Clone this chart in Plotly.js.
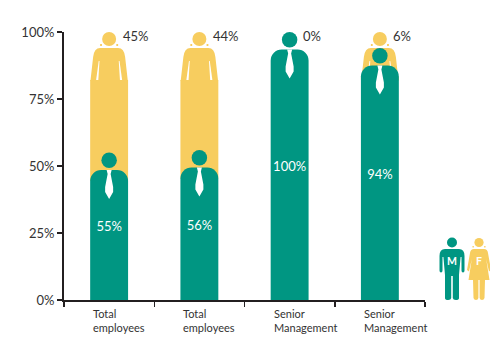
<!DOCTYPE html>
<html>
<head>
<meta charset="utf-8">
<script src="https://cdn.plot.ly/plotly-3.0.1.min.js"></script>
<style>html,body{margin:0;padding:0;background:#fff}#chart{width:490px;height:338px}</style>
</head>
<body>
<div id="chart"></div>
<script>
// Workforce gender split, drawn as stacked person figures.
const categories = ['Total<br>employees', 'Total<br>employees', 'Senior<br>Management', 'Senior<br>Management'];
const maleShare = [55, 56, 100, 94];
const femaleShare = [45, 44, 0, 6];
const yTicks = [0, 25, 50, 75, 100];

const TEAL = '#009682';
const YELLOW = '#f7cd5f';
const INK = '#231f20';
const FONT = 'Lato, "Open Sans", sans-serif';

const M = {l: 64, r: 65, t: 32, b: 38};
const plotW = 490 - M.l - M.r, plotH = 338 - M.t - M.b;
const pxToPct = 100 / plotH;
const positions = categories.map((_, i) => i);

// Pixel drops measured from the top of a figure (value level) downwards.
const MALE_HEAD = 7.75, MALE_SHOULDER = 17.5, SHOULDER_RADIUS = 11;
const FEMALE_HEAD = 7, FEMALE_HIP = 48;
const LABEL_DROP = 1.5;

// Builds an SVG path from y-down pixel offsets; Plotly's pixel mode counts y upwards.
function path() {
  let out = '', xy = 0;
  for (const a of arguments) {
    if (typeof a === 'string') { out += a + ' '; xy = 0; }
    else { out += (xy++ % 2 ? -a : a) + ' '; }
  }
  return out;
}

function figureShape(x, yVal, d, fill, layer) {
  return {type: 'path', xref: 'x', yref: 'y', xsizemode: 'pixel', ysizemode: 'pixel',
          xanchor: x, yanchor: yVal, path: d, fillcolor: fill,
          line: {width: 0}, layer: layer};
}
function keyAnchor(px, py) {
  return {xref: 'paper', yref: 'paper', xsizemode: 'pixel', ysizemode: 'pixel',
          xanchor: (px - M.l) / plotW, yanchor: 1 - (py - M.t) / plotH,
          line: {width: 0}, layer: 'above'};
}
function keyShape(px, py, d, fill) {
  return Object.assign(keyAnchor(px, py), {type: 'path', path: d, fillcolor: fill});
}
function keyHead(px, py, r, fill) {
  return Object.assign(keyAnchor(px, py), {type: 'circle', x0: -r, x1: r, y0: -r, y1: r, fillcolor: fill});
}

const torso = path('M', -9, 16, 'Q', -15, 16, -16, 25, 'L', -18.7, 49, 'L', 18.7, 49, 'L', 16, 25, 'Q', 15, 16, 9, 16, 'Z');
const hairL = path('M', -9, 12, 'L', -7.2, 12, 'L', -7.2, 14, 'L', -9, 14, 'Z');
const hairR = path('M', 7.2, 12, 'L', 9, 12, 'L', 9, 14, 'L', 7.2, 14, 'Z');
const slitL = path('M', -10.4, 29, 'L', -9.6, 29, 'L', -10.8, 48, 'L', -13, 48, 'Z');
const slitR = path('M', 9.6, 29, 'L', 10.4, 29, 'L', 13, 48, 'L', 10.8, 48, 'Z');
const tie = path('M', -2.5, 0, 'L', 2.5, 0, 'L', 1.5, 4, 'L', 4, 17, 'L', 4, 22, 'L', 0, 29, 'L', -4, 22, 'L', -4, 17, 'L', -1.5, 4, 'Z');

const shapes = [];
positions.forEach(i => {
  if (femaleShare[i] > 0) {
    const top = maleShare[i] + femaleShare[i];
    [torso, hairL, hairR].forEach(d => shapes.push(figureShape(i, top, d, YELLOW, 'below')));
    [slitL, slitR].forEach(d => shapes.push(figureShape(i, top, d, '#ffffff', 'below')));
  }
  shapes.push(figureShape(i, maleShare[i] - MALE_SHOULDER * pxToPct, tie, '#ffffff', 'above'));
});

// Key figures on the right of the plot.
const keyMale = path('M', -7, 0, 'Q', -12.5, 0, -12.5, 7, 'L', -12.5, 21.5, 'Q', -12.5, 23.5, -11, 23.5, 'Q', -9.5, 23.5, -9.5, 21.5,
  'L', -9.5, 8, 'L', -8.6, 8, 'L', -7, 26, 'L', -7, 49, 'Q', -7, 51, -3.8, 51, 'Q', -1, 51, -0.8, 49, 'L', -0.8, 27, 'L', 0.8, 27, 'L', 0.8, 49,
  'Q', 1, 51, 3.8, 51, 'Q', 7, 51, 7, 49, 'L', 7, 26, 'L', 8.6, 8, 'L', 9.5, 8, 'L', 9.5, 21.5, 'Q', 9.5, 23.5, 11, 23.5, 'Q', 12.5, 23.5, 12.5, 21.5,
  'L', 12.5, 7, 'Q', 12.5, 0, 7, 0, 'Z');
const keyFemale = path('M', -5, 0, 'Q', -8.5, 0, -9, 4, 'L', -12, 21, 'L', -10, 22.5, 'L', -7.2, 10, 'L', -10.5, 31, 'L', -6, 31, 'L', -5.5, 49,
  'Q', -5, 51, -3, 51, 'Q', -1, 51, -0.6, 49, 'L', -0.6, 31, 'L', 0.6, 31, 'L', 0.6, 49, 'Q', 1, 51, 3, 51, 'Q', 5, 51, 5.5, 49,
  'L', 6, 31, 'L', 10.5, 31, 'L', 7.2, 10, 'L', 10, 22.5, 'L', 12, 21, 'L', 9, 4, 'Q', 8.5, 0, 5, 0, 'Z');
shapes.push(keyHead(452, 242.5, 5, TEAL));
shapes.push(keyHead(479, 242.5, 4.6, YELLOW));
shapes.push(keyShape(452, 249, keyMale, TEAL));
shapes.push(keyShape(479, 249, keyFemale, YELLOW));
shapes.push(keyShape(479, 249, path('M', -6.5, -3, 'L', -5.2, -3, 'L', -5.2, -1.5, 'L', -6.5, -1.5, 'Z'), YELLOW));
shapes.push(keyShape(479, 249, path('M', 5.2, -3, 'L', 6.5, -3, 'L', 6.5, -1.5, 'L', 5.2, -1.5, 'Z'), YELLOW));

// The yellow body starts under the teal shoulders so it fills the rounded corners.
const femaleBase = maleShare.map(m => m - (MALE_SHOULDER + SHOULDER_RADIUS) * pxToPct);
const femaleBody = positions.map(i => femaleShare[i] > 0
  ? (maleShare[i] + femaleShare[i] - FEMALE_HIP * pxToPct) - femaleBase[i] : null);

// Teal marks live on a twin y axis: bars sharing a subplot only round the tallest one,
// and the twin also keeps the male figure in front of the female one.
const traces = [
  {type: 'bar', x: positions, y: femaleBody, base: femaleBase, width: 0.42,
   marker: {color: YELLOW, line: {width: 0}}, hoverinfo: 'skip'},
  {type: 'scatter', mode: 'markers', cliponaxis: false,
   x: positions.filter(i => femaleShare[i] > 0),
   y: positions.filter(i => femaleShare[i] > 0).map(i => maleShare[i] + femaleShare[i] - FEMALE_HEAD * pxToPct),
   marker: {size: 14, color: YELLOW, line: {width: 0}}, hoverinfo: 'skip'},
  {type: 'bar', yaxis: 'y2', x: positions, y: maleShare.map(m => m - MALE_SHOULDER * pxToPct), width: 0.42,
   marker: {color: TEAL, line: {width: 0}, cornerradius: SHOULDER_RADIUS}, hoverinfo: 'skip'},
  {type: 'scatter', yaxis: 'y2', mode: 'markers', cliponaxis: false,
   x: positions, y: maleShare.map(m => m - MALE_HEAD * pxToPct),
   marker: {size: 15.5, color: TEAL, line: {width: 0}}, hoverinfo: 'skip'},
  {type: 'scatter', yaxis: 'y2', mode: 'text', cliponaxis: false,
   x: positions, y: maleShare.map(m => m / 2 - LABEL_DROP * pxToPct), text: maleShare.map(m => m + '%'),
   textposition: 'middle center', textfont: {family: FONT, size: 13, color: '#ffffff'}, hoverinfo: 'skip'}
];

const annotations = [];
positions.forEach(i => {
  annotations.push({x: i, xref: 'x', y: 100, yref: 'y', yshift: -4, xshift: 13.5, yanchor: 'middle', xanchor: 'left',
    text: femaleShare[i] + '%', showarrow: false, font: {family: FONT, size: 13, color: '#333333'}, borderpad: 0, borderwidth: 0});
  annotations.push({x: i, xref: 'x', y: 0, yref: 'y', yshift: -7, xshift: -16, yanchor: 'top', xanchor: 'left', align: 'left',
    text: categories[i], showarrow: false, font: {family: FONT, size: 11, color: '#333333'}, borderpad: 0, borderwidth: 0});
});
['M', 'F'].forEach((letter, k) => annotations.push({
  x: ([452, 479][k] - M.l) / plotW, xref: 'paper', xanchor: 'center',
  y: 1 - (261 - M.t) / plotH, yref: 'paper', yanchor: 'middle',
  text: '<b>' + letter + '</b>', showarrow: false, borderpad: 0,
  font: {family: FONT, size: 10.5, color: '#ffffff'}}));

const layout = {
  width: 490, height: 338, margin: M, paper_bgcolor: '#fff', plot_bgcolor: 'rgba(0,0,0,0)',
  barmode: 'overlay', showlegend: false, shapes, annotations,
  xaxis: {range: [-0.5, 3.5], tickmode: 'array', tickvals: [-0.5, 0.5, 1.5, 2.5, 3.5], showticklabels: false,
          ticks: 'outside', ticklen: 5, tickwidth: 1.5, tickcolor: INK, showline: true, linecolor: INK, linewidth: 2,
          showgrid: false, zeroline: false, fixedrange: true},
  yaxis: {range: [0, 100], tickmode: 'array', tickvals: yTicks, ticktext: yTicks.map(v => v + '%'),
          ticks: 'outside', ticklen: 5, tickwidth: 1.5, tickcolor: INK, showline: true, linecolor: INK, linewidth: 2,
          showgrid: false, zeroline: false, fixedrange: true,
          tickfont: {family: FONT, size: 13, color: '#333333'}},
  yaxis2: {range: [0, 100], overlaying: 'y', visible: false, fixedrange: true}
};

Plotly.newPlot('chart', traces, layout, {displayModeBar: false, staticPlot: true});
</script>
</body>
</html>
